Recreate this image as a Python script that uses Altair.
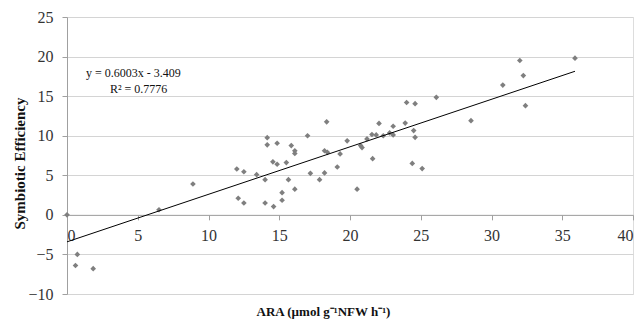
import altair as alt
import pandas as pd

ara = [0, 0.73, 0.6, 1.85, 6.5, 8.9, 12.0, 12.5, 13.4, 14.0, 12.1, 12.5, 14.0, 14.6,
       14.15, 14.15, 14.85, 14.55, 14.85, 15.5, 15.65, 15.2, 15.2, 16.1, 15.85, 16.1,
       16.1, 17.0, 17.2, 17.85, 18.2, 18.35, 18.2, 18.4, 19.1, 19.3, 19.8, 20.5, 20.75,
       20.85, 21.2, 21.55, 21.85, 21.6, 22.05, 22.35, 22.8, 23.05, 23.05, 23.9, 24.0,
       24.6, 24.5, 24.6, 24.4, 25.1, 26.1, 28.55, 30.8, 32.0, 32.25, 32.4, 35.9]
eff = [0, -5.0, -6.4, -6.8, 0.65, 3.9, 5.8, 5.45, 5.08, 4.45, 2.1, 1.5, 1.5, 1.05,
       9.75, 8.85, 9.05, 6.7, 6.4, 6.6, 4.45, 2.8, 1.85, 3.25, 8.75, 8.1,
       7.75, 10.0, 5.25, 4.45, 5.3, 11.75, 8.1, 7.9, 6.05, 7.7, 9.35, 3.25, 8.75,
       8.5, 9.6, 10.15, 10.1, 7.1, 11.55, 10.0, 10.35, 11.2, 10.1, 11.6, 14.2,
       14.05, 10.65, 9.8, 6.5, 5.85, 14.85, 11.9, 16.4, 19.5, 17.6, 13.8, 19.8]

slope = 0.6003
intercept = -3.409
eq_lines = ["y = 0.6003x - 3.409", "R² = 0.7776"]
x_ticks = [0, 5, 10, 15, 20, 25, 30, 35, 40]
y_ticks = [-10, -5, 0, 5, 10, 15, 20, 25]

pts = pd.DataFrame({"ara": ara, "eff": eff})
fit = pd.DataFrame({"ara": [min(ara), max(ara)]})
fit["eff"] = slope * fit["ara"] + intercept

W, H = 566, 277
FONT = "Liberation Serif"

xs = alt.Scale(domain=[0, 40], nice=False, zero=False)
ys = alt.Scale(domain=[-10, 25], nice=False, zero=False)

x_axis = alt.Axis(
    values=x_ticks, grid=False, offset=-H * 10 / 35, labelOverlap=False,
    domainColor="#a0a0a0", tickColor="#a0a0a0", tickSize=5,
    labelFont=FONT, labelFontSize=16, labelColor="#333333", labelPadding=8,
    title="ARA (µmol g⁻¹NFW h⁻¹)", titleFont=FONT, titleFontSize=13,
    titleFontWeight="bold", titleColor="#111111",
    titleX=256, titleY=97, titleBaseline="middle", titleAlign="center",
)
y_axis = alt.Axis(
    values=y_ticks, grid=True, gridColor="#d4d4d4", gridWidth=1, labelOverlap=False,
    domainColor="#a0a0a0", tickColor="#a0a0a0", tickSize=5,
    labelFont=FONT, labelFontSize=16, labelColor="#333333", labelPadding=9,
    title="Symbiotic Efficiency", titleFont=FONT, titleFontSize=15,
    titleFontWeight="bold", titleColor="#111111",
    titleX=-48, titleY=146, titleBaseline="middle", titleAlign="center", titleAngle=270,
)

points = alt.Chart(pts).mark_point(
    shape="diamond", filled=True, size=32, color="#7f7f7f", opacity=1
).encode(
    x=alt.X("ara:Q", scale=xs, axis=x_axis),
    y=alt.Y("eff:Q", scale=ys, axis=y_axis),
)

line = alt.Chart(fit).mark_line(color="#000000", strokeWidth=1).encode(
    x=alt.X("ara:Q", scale=xs, axis=x_axis),
    y=alt.Y("eff:Q", scale=ys, axis=y_axis),
)

eq = pd.DataFrame({"t": eq_lines})
eq_text1 = alt.Chart(eq.iloc[[0]]).mark_text(
    font=FONT, fontSize=12, align="left", baseline="middle", color="#111111"
).encode(text="t:N", x=alt.value(19), y=alt.value(56))
eq_text2 = alt.Chart(eq.iloc[[1]]).mark_text(
    font=FONT, fontSize=12, align="left", baseline="middle", color="#111111"
).encode(text="t:N", x=alt.value(43), y=alt.value(72))

chart = alt.layer(points, line, eq_text1, eq_text2).properties(
    width=W, height=H,
    autosize=alt.AutoSizeParams(type="none"),
    padding={"left": 59, "top": 9, "right": 1, "bottom": 26},
).configure_view(stroke=None).configure(background="white")

chart.save("out.html", embed_options={"renderer": "svg", "actions": False})
